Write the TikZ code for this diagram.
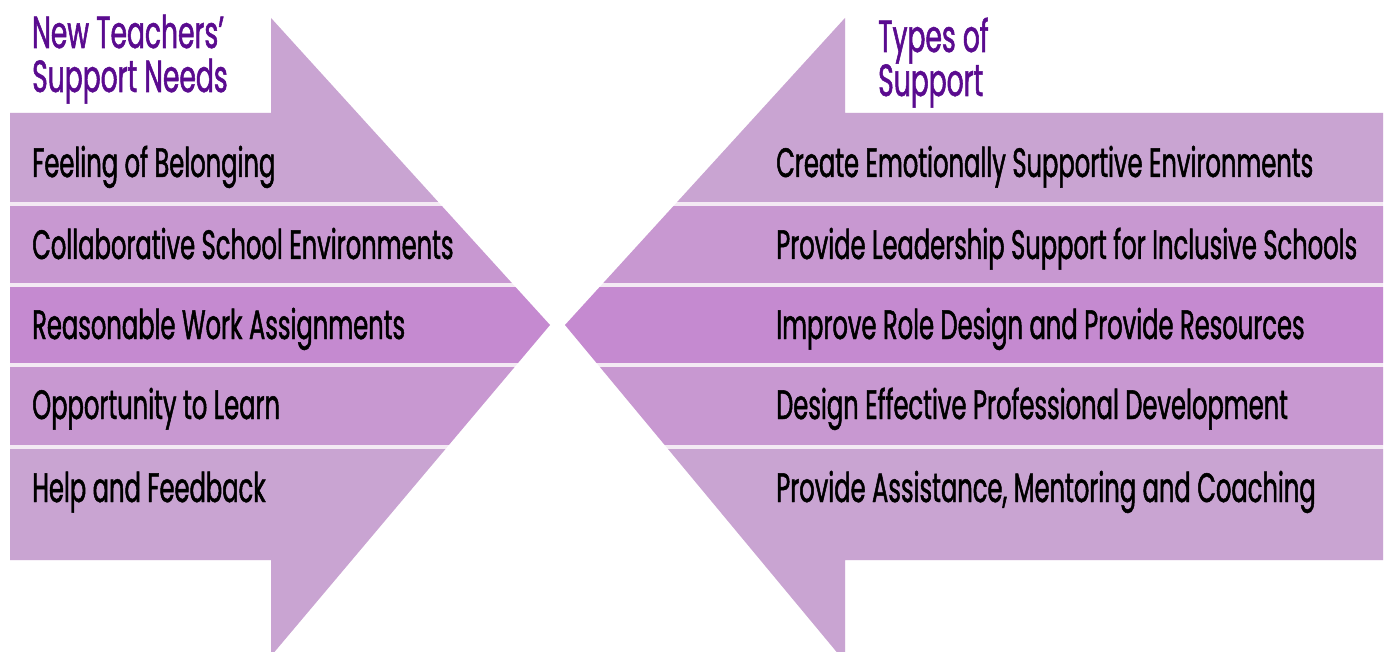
\documentclass[tikz,border=0pt]{standalone}
\usepackage{fontspec}
\setmainfont{Poppins}[FakeStretch=0.59,FakeBold=1.2]
\definecolor{bandA}{HTML}{C9A4D2}
\definecolor{bandB}{HTML}{C898D1}
\definecolor{bandC}{HTML}{C58AD0}
\definecolor{gapc}{HTML}{F4EAF4}
\definecolor{titlec}{HTML}{5A0B8F}
\tikzset{
  item/.style={anchor=base west, inner sep=0pt, font=\fontsize{41}{41}\selectfont, text=black},
  heading/.style={anchor=base west, inner sep=0pt, font=\fontsize{45}{44}\selectfont, text=titlec, align=left},
}
\begin{document}
\begin{tikzpicture}[x=1pt,y=-1pt]
\useasboundingbox (0,0) rectangle (1389,652);
\clip (0,0) rectangle (1389,652);
% left arrow
\begin{scope}
\clip (10,113) -- (271,113) -- (271,18) -- (550,325) -- (271,656) -- (271,560) -- (10,560) -- cycle;
\fill[gapc] (0,0) rectangle (700,700);
\fill[bandA] (0,0) rectangle (700,202);
\fill[bandB] (0,206) rectangle (700,283);
\fill[bandC] (0,287) rectangle (700,363);
\fill[bandB] (0,367) rectangle (700,445);
\fill[bandA] (0,449) rectangle (700,700);
\end{scope}
% right arrow
\begin{scope}
\clip (1383,113) -- (845,113) -- (845,18) -- (565,325) -- (845,662) -- (845,560) -- (1383,560) -- cycle;
\fill[gapc] (500,0) rectangle (1389,700);
\fill[bandA] (500,0) rectangle (1389,202);
\fill[bandB] (500,206) rectangle (1389,283);
\fill[bandC] (500,287) rectangle (1389,363);
\fill[bandB] (500,367) rectangle (1389,445);
\fill[bandA] (500,449) rectangle (1389,700);
\end{scope}
% headings (anchor at baseline of last line)
\node[heading] (hl) at (32,92) {New Teachers’\\Support Needs};
\node[heading] (hr) at (878,96) {Types of\\Support};
% left items
\node[item] (l1) at (32,177) {Feeling of Belonging};
\node[item] (l2) at (32,259) {Collaborative School Environments};
\node[item] (l3) at (32,339) {Reasonable Work Assignments};
\node[item] (l4) at (32,419) {Opportunity to Learn};
\node[item] (l5) at (32,502) {Help and Feedback};
% right items
\node[item] (r1) at (776,177) {Create Emotionally Supportive Environments};
\node[item] (r2) at (776,259) {Provide Leadership Support for Inclusive Schools};
\node[item] (r3) at (776,339) {Improve Role Design and Provide Resources};
\node[item] (r4) at (776,419) {Design Effective Professional Development};
\node[item] (r5) at (776,502) {Provide Assistance, Mentoring and Coaching};
\end{tikzpicture}
\end{document}
